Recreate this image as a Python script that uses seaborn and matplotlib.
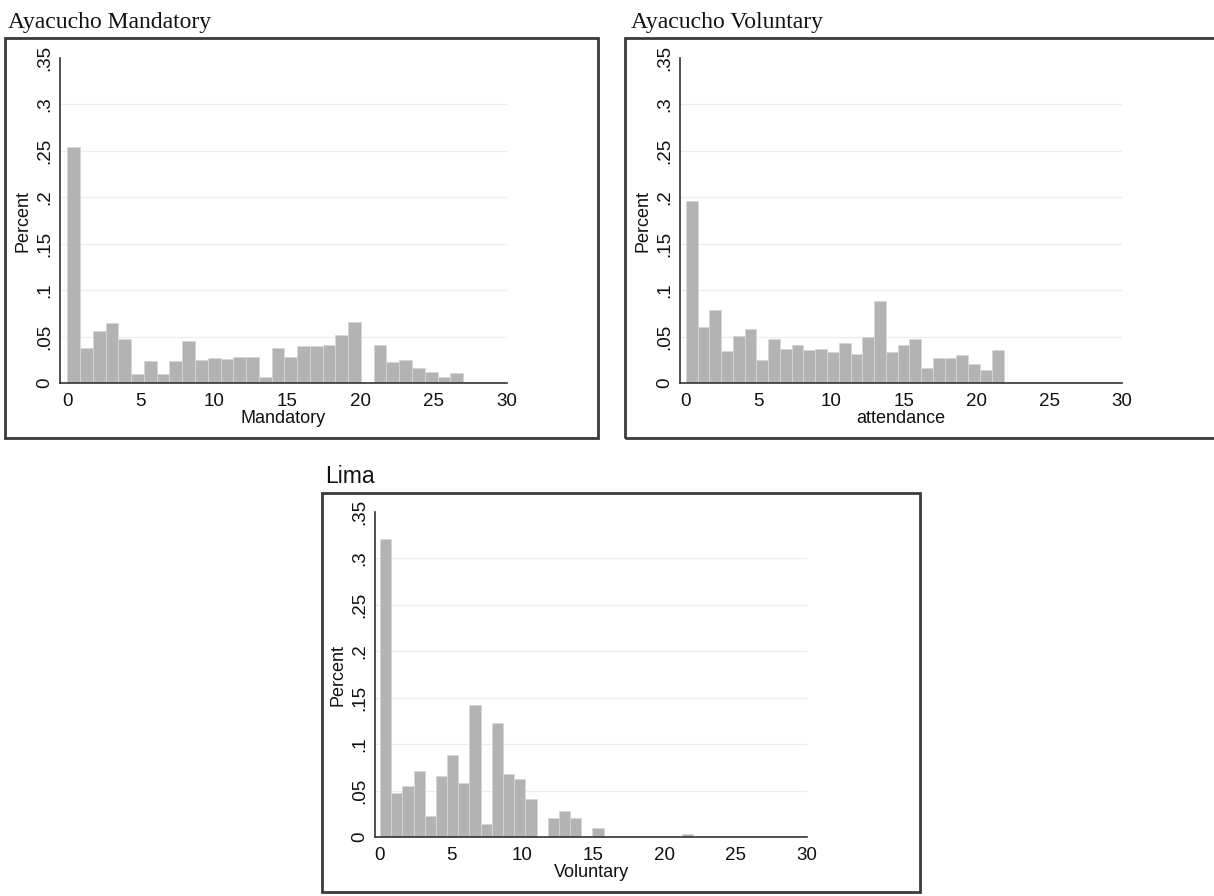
import matplotlib
matplotlib.use("Agg")
import matplotlib.pyplot as plt
from matplotlib.patches import Rectangle
import seaborn as sns
import numpy as np
import pandas as pd

# Share of respondents per attendance bin
mand_heights = [0.254, 0.038, 0.056, 0.065, 0.047, 0.010, 0.024, 0.010, 0.024, 0.045,
                0.025, 0.027, 0.026, 0.028, 0.028, 0.007, 0.038, 0.028, 0.040, 0.040,
                0.041, 0.052, 0.066, 0.0, 0.041, 0.023, 0.025, 0.016, 0.012, 0.007, 0.011]
mand_range = (0, 27)

vol_heights = [0.196, 0.060, 0.079, 0.035, 0.051, 0.058, 0.025, 0.047, 0.037, 0.041,
               0.035, 0.037, 0.033, 0.043, 0.031, 0.050, 0.088, 0.033, 0.041, 0.047,
               0.016, 0.027, 0.027, 0.030, 0.021, 0.014, 0.036]
vol_range = (0, 21.85)

lima_heights = [0.321, 0.047, 0.055, 0.071, 0.023, 0.066, 0.088, 0.058, 0.142, 0.014,
                0.123, 0.068, 0.063, 0.041, 0.0, 0.020, 0.028, 0.020, 0.0, 0.010,
                0.0, 0.0, 0.0, 0.0, 0.0, 0.0, 0.0, 0.003]
lima_range = (0, 22)

yticks = [0, 0.05, 0.1, 0.15, 0.2, 0.25, 0.3, 0.35]
ytick_labels = ["0", ".05", ".1", ".15", ".2", ".25", ".3", ".35"]
xticks = [0, 5, 10, 15, 20, 25, 30]

sns.set_style("white")
plt.rcParams["font.family"] = ["Liberation Sans", "DejaVu Sans"]

W, H = 1214, 896
fig = plt.figure(figsize=(W / 100, H / 100), dpi=100)


def px_axes(left, top, right, bottom):
    return fig.add_axes([left / W, 1 - bottom / H, (right - left) / W, (bottom - top) / H])


def frame(left, top, right, bottom):
    fig.add_artist(Rectangle((left / W, 1 - bottom / H), (right - left) / W, (bottom - top) / H,
                             transform=fig.transFigure, fill=False, edgecolor="#3a3a3a",
                             linewidth=2.0))


def hist_panel(ax, heights, rng, xlabel, xmin):
    edges = np.linspace(rng[0], rng[1], len(heights) + 1)
    df = pd.DataFrame({"mid": (edges[:-1] + edges[1:]) / 2, "share": heights})
    sns.histplot(data=df, x="mid", weights="share", bins=list(edges), ax=ax,
                 color="#b3b3b3", edgecolor="#d6d6d6", linewidth=0.6, alpha=1)
    ax.set_xlim(xmin, 30)
    ax.set_ylim(0, 0.35)
    ax.set_xticks(xticks)
    ax.set_yticks(yticks)
    ax.set_yticklabels(ytick_labels, rotation=90, va="center")
    for y in yticks[1:-1]:
        ax.axhline(y, color="#ececec", linewidth=0.9, zorder=0)
    ax.set_axisbelow(True)
    for s in ["top", "right"]:
        ax.spines[s].set_visible(False)
    for s in ["left", "bottom"]:
        ax.spines[s].set_color("#333333")
        ax.spines[s].set_linewidth(1.2)
    ax.tick_params(axis="x", direction="out", length=5, width=1.1, color="#333333",
                   labelsize=13.5, labelcolor="#111111", pad=2)
    ax.tick_params(axis="y", direction="out", length=5, width=1.1, color="#333333",
                   labelsize=13.5, labelcolor="#111111", pad=0)
    ax.set_xlabel(xlabel, fontsize=13, labelpad=0, color="#111111")
    ax.set_ylabel("Percent", fontsize=13, labelpad=3, color="#111111")


# Ayacucho Mandatory
frame(5, 38, 598, 438)
ax1 = px_axes(60, 58, 507, 383)
hist_panel(ax1, mand_heights, mand_range, "Mandatory", -0.5)
fig.text(8 / W, 1 - 28 / H, "Ayacucho Mandatory", family=["Liberation Serif"],
         fontsize=17, ha="left", va="baseline", color="#111111")

# Ayacucho Voluntary
frame(625, 38, 1222, 438)
ax2 = px_axes(680, 58, 1122, 383)
hist_panel(ax2, vol_heights, vol_range, "attendance", -0.4)
fig.text(631 / W, 1 - 28 / H, "Ayacucho Voluntary", family=["Liberation Serif"],
         fontsize=17, ha="left", va="baseline", color="#111111")

# Lima
frame(322, 493, 920, 892)
ax3 = px_axes(375, 512, 807, 837)
hist_panel(ax3, lima_heights, lima_range, "Voluntary", -0.35)
fig.text(325 / W, 1 - 483 / H, "Lima", fontsize=16.5, ha="left", va="baseline",
         color="#111111")

fig.savefig("out.png", dpi=100, facecolor="white")
